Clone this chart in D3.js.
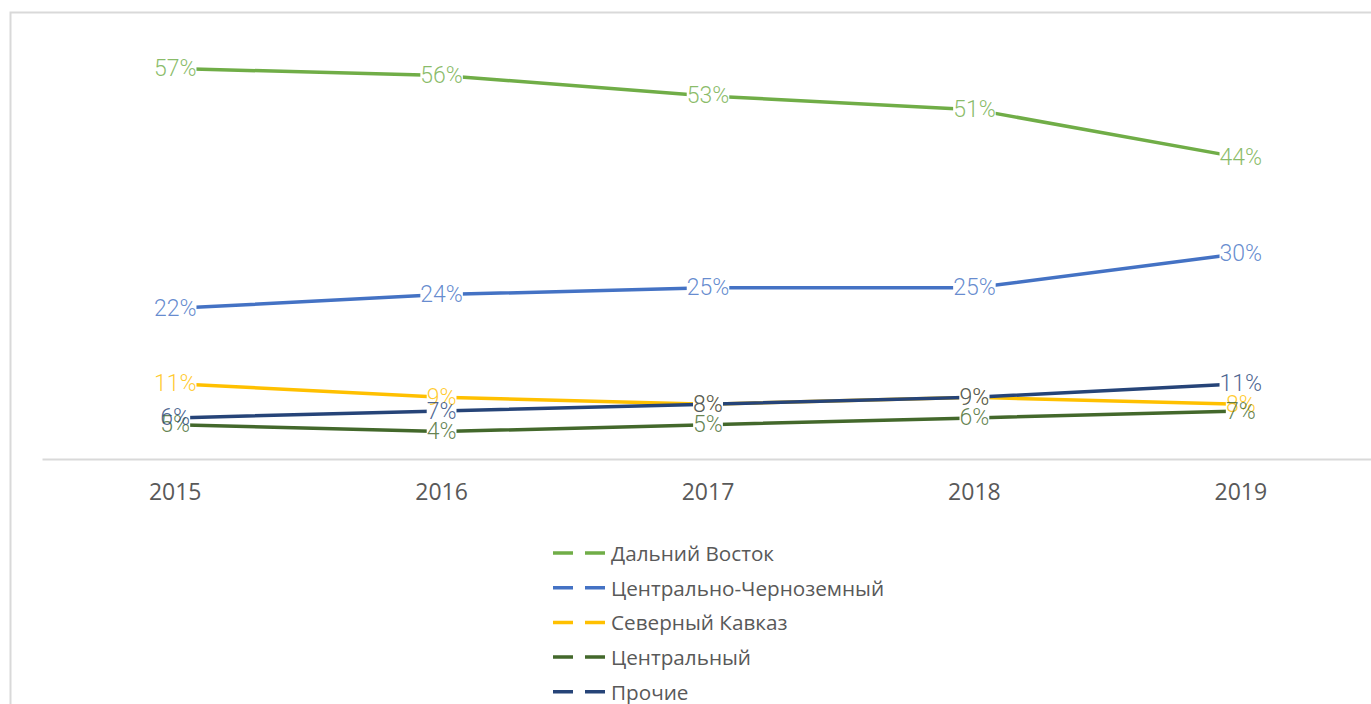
<!DOCTYPE html>
<html>
<head>
<meta charset="utf-8">
<script src="https://cdn.jsdelivr.net/npm/d3@7"></script>
<style>
  html, body { margin: 0; padding: 0; background: #fff; }
  svg { display: block; }
</style>
</head>
<body>
<svg id="chart" width="1371" height="704"></svg>
<script>
// Shares by region, 2015–2019 (%)
const years = ["2015", "2016", "2017", "2018", "2019"];
const seriesNames = ["Дальний Восток", "Центрально-Черноземный", "Северный Кавказ", "Центральный", "Прочие"];
const farEast      = [57, 56, 53, 51, 44];
const centralBlack = [22, 24, 25, 25, 30];
const northCauc    = [11, 9, 8, 9, 8];
const central      = [5, 4, 5, 6, 7];
const others       = [6, 7, 8, 9, 11];
const seriesColors = ["#70AD47", "#4472C4", "#FFC000", "#43682B", "#264478"];

const seriesValues = [farEast, centralBlack, northCauc, central, others];
const series = seriesNames.map((name, i) => ({
  name, color: seriesColors[i],
  points: years.map((y, j) => ({ year: y, value: seriesValues[i][j] }))
}));

const svg = d3.select("#chart");

// chart frame
svg.append("rect")
  .attr("x", 10.5).attr("y", 12.5)
  .attr("width", 1400).attr("height", 800)
  .attr("fill", "#fff").attr("stroke", "#D9D9D9").attr("stroke-width", 2);

const x = d3.scaleBand().domain(years).range([42, 1374]);
const y = d3.scaleLinear().domain([0, 60]).range([459, 48]);
const cx = d => x(d) + x.bandwidth() / 2;

// category axis
const axis = d3.axisBottom(x).tickSize(0).tickPadding(25);
const ax = svg.append("g").attr("transform", `translate(0,${y(0)})`).call(axis);
ax.select(".domain").attr("stroke", "#D9D9D9").attr("stroke-width", 2);
ax.selectAll("text")
  .attr("fill", "#595959")
  .style("font-family", "'Open Sans', 'Noto Sans', sans-serif")
  .style("font-size", "23px");

// series lines
const line = d3.line().x(d => cx(d.year)).y(d => y(d.value));
svg.append("g").selectAll("path").data(series).join("path")
  .attr("d", d => line(d.points))
  .attr("fill", "none")
  .attr("stroke", d => d.color)
  .attr("stroke-width", 3.5)
  .attr("stroke-linejoin", "round");

// data labels: white boxes cut the lines, then text on top
const labels = [];
series.forEach(s => s.points.forEach(p => labels.push({ color: s.color, year: p.year, value: p.value })));
const labelFont = "'Roboto', 'Lato', sans-serif";
const boxG = svg.append("g");
const textG = svg.append("g");
const texts = textG.selectAll("text").data(labels).join("text")
  .attr("x", d => cx(d.year))
  .attr("y", d => y(d.value))
  .attr("text-anchor", "middle")
  .attr("dominant-baseline", "central")
  .style("font-family", labelFont)
  .style("font-weight", 300)
  .style("font-size", "23px")
  .attr("fill", d => d.color)
  .attr("fill-opacity", 0.82)
  .text(d => d.value + "%");
texts.each(function () {
  const b = this.getBBox();
  boxG.append("rect")
    .attr("x", b.x).attr("y", b.y + 4)
    .attr("width", b.width).attr("height", b.height - 8)
    .attr("fill", "#fff");
});

// legend
const legend = svg.append("g");
const rows = legend.selectAll("g").data(series).join("g")
  .attr("transform", (d, i) => `translate(0,${553 + i * 34.7})`);
rows.append("line")
  .attr("x1", 553).attr("x2", 605).attr("y1", 0).attr("y2", 0)
  .attr("stroke", d => d.color).attr("stroke-width", 3.5)
  .attr("stroke-dasharray", "20 12");
rows.append("text")
  .attr("x", 611).attr("y", 0)
  .attr("dominant-baseline", "central")
  .attr("fill", "#595959")
  .style("font-family", "'Open Sans', 'Noto Sans', sans-serif")
  .style("font-size", "20.7px")
  .text(d => d.name);
</script>
</body>
</html>
